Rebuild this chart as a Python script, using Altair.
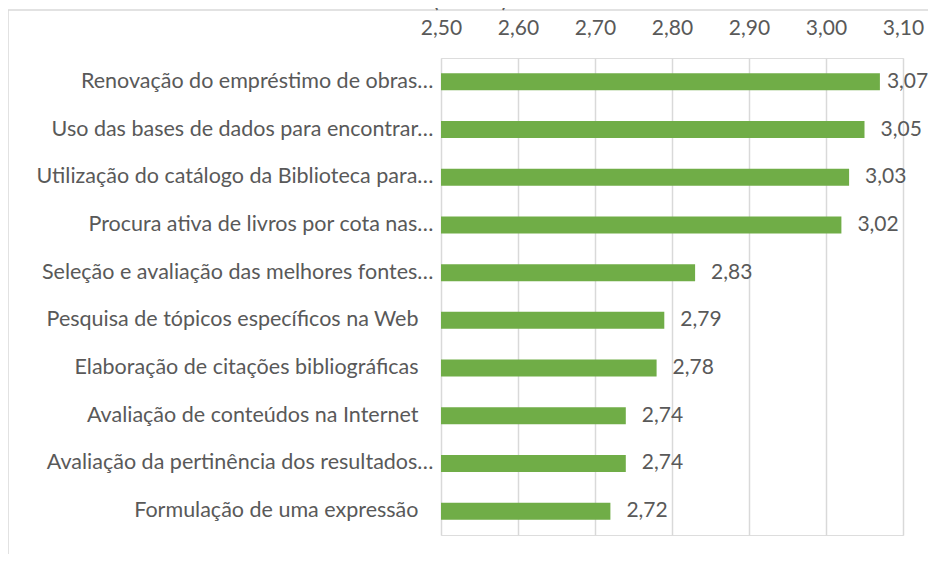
import altair as alt
import pandas as pd

categories = [
    "Renovação do empréstimo de obras…",
    "Uso das bases de dados para encontrar…",
    "Utilização do catálogo da Biblioteca para…",
    "Procura ativa de livros por cota nas…",
    "Seleção e avaliação das melhores fontes…",
    "Pesquisa de tópicos específicos na Web",
    "Elaboração de citações bibliográficas",
    "Avaliação de conteúdos na Internet",
    "Avaliação da pertinência dos resultados…",
    "Formulação de uma expressão",
]
values = [3.07, 3.05, 3.03, 3.02, 2.83, 2.79, 2.78, 2.74, 2.74, 2.72]
tick_values = [2.50, 2.60, 2.70, 2.80, 2.90, 3.00, 3.10]
title_text = ["(média)"]

FONT = "Lato"
GREY = "#595959"
GREEN = "#70AD47"

df = pd.DataFrame({"cat": categories, "val": values})
df["lbl"] = [f"{v:.2f}".replace(".", ",") for v in values]

x_axis = alt.Axis(
    orient="top",
    values=tick_values,
    labelExpr="replace(format(datum.value, '.2f'), '.', ',')",
    title=None,
    domain=False,
    ticks=False,
    labelFlush=False,
    labelPadding=20,
    labelFontSize=21,
    labelFont=FONT,
    labelColor=GREY,
    grid=True,
    gridColor="#d9d9d9",
    gridWidth=1.5,
)
y_axis = alt.Axis(
    title=None,
    domain=False,
    ticks=False,
    labelPadding={"condition": {"test": "slice(datum.value, -1) != '…'", "value": 23}, "value": 8},
    labelFontSize=21.5,
    labelFont=FONT,
    labelColor=GREY,
    labelLimit=0,
)
x_scale = alt.Scale(domain=[2.5, 3.1], zero=False, nice=False)

base = alt.Chart(df)
bars = base.mark_bar(color=GREEN, size=17).encode(
    x=alt.X("val:Q", scale=x_scale, axis=x_axis),
    x2=alt.datum(2.5),
    y=alt.Y("cat:N", sort=categories, axis=y_axis),
)
text_style = dict(align="left", baseline="middle", fontSize=21, font=FONT, color=GREY)
labels = base.transform_filter("datum.val < 3.06").mark_text(dx=16, **text_style).encode(
    x=alt.X("val:Q", scale=x_scale), y=alt.Y("cat:N", sort=categories), text="lbl:N"
)
labels_edge = base.transform_filter("datum.val >= 3.06").mark_text(dx=7, **text_style).encode(
    x=alt.X("val:Q", scale=x_scale), y=alt.Y("cat:N", sort=categories), text="lbl:N"
)

border_df = pd.DataFrame({"k": [1]})
left_border = alt.Chart(border_df).mark_rule(color="#d9d9d9", strokeWidth=1.5).encode(
    x=alt.value(-433), y=alt.value(-48), y2=alt.value(500)
)
top_border = alt.Chart(border_df).mark_rule(color="#d9d9d9", strokeWidth=1.5).encode(
    x=alt.value(-433), x2=alt.value(500), y=alt.value(-48)
)
title = alt.Chart(pd.DataFrame({"t": title_text})).mark_text(
    fontSize=24, font=FONT, color=GREY, align="center", baseline="alphabetic"
).encode(text="t:N", x=alt.value(29), y=alt.value(-51))

chart = alt.layer(left_border, top_border, bars, labels, labels_edge, title).properties(
    width=462,
    height=477,
    padding={"left": 433, "top": 50, "right": 25, "bottom": 19},
    autosize=alt.AutoSizeParams(type="none"),
).configure_view(stroke=None).configure(background="white")

chart.save("out.html", embed_options={"renderer": "svg", "actions": False})
